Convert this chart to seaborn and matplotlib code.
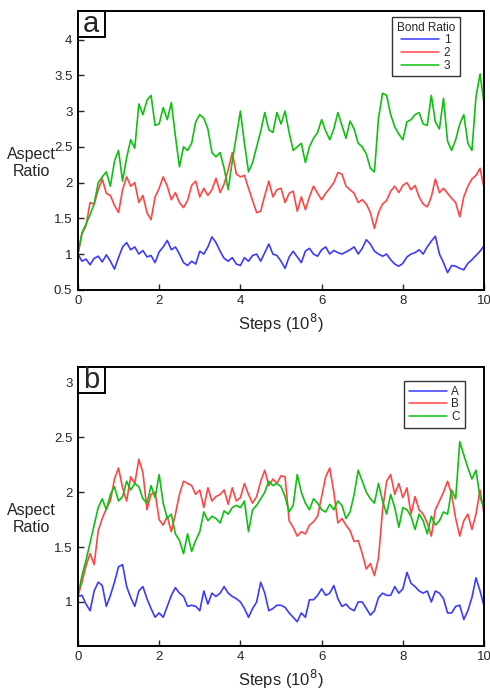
import numpy as np
import pandas as pd
import seaborn as sns
import matplotlib.pyplot as plt
from matplotlib.patches import Rectangle
from matplotlib.ticker import FuncFormatter

# steps in units of 10^8, one sample every 0.1
steps = np.round(np.arange(101) * 0.1, 1)

# panel a : bond ratio 1, 2, 3
ratio_1 = [1.00, 0.90, 0.93, 0.85, 0.94, 0.97, 0.89, 0.99, 0.90, 0.79,
           0.95, 1.10, 1.16, 1.06, 1.10, 1.00, 1.05, 0.96, 0.98, 0.88,
           1.03, 1.10, 1.19, 1.06, 1.10, 1.00, 0.88, 0.84, 0.90, 0.86,
           1.04, 1.00, 1.10, 1.24, 1.16, 1.04, 0.94, 0.90, 0.95, 0.86,
           0.84, 0.95, 0.90, 0.98, 1.00, 0.90, 1.02, 1.14, 1.00, 0.98,
           0.90, 0.80, 0.96, 1.04, 0.96, 0.88, 1.04, 1.08, 1.00, 0.97,
           1.06, 1.10, 1.00, 1.05, 1.02, 1.00, 1.03, 1.06, 1.10, 1.00,
           1.08, 1.20, 1.14, 1.04, 1.00, 0.97, 1.00, 0.92, 0.86, 0.83,
           0.87, 0.96, 1.00, 1.02, 1.06, 1.00, 1.10, 1.18, 1.25, 1.00,
           0.88, 0.74, 0.84, 0.83, 0.80, 0.78, 0.87, 0.92, 0.98, 1.04,
           1.12]
ratio_2 = [1.00, 1.28, 1.40, 1.72, 1.70, 1.90, 2.05, 1.85, 1.82, 1.68,
           1.58, 1.90, 2.08, 1.95, 2.00, 1.72, 1.82, 1.58, 1.48, 1.80,
           1.92, 2.08, 1.95, 1.76, 1.86, 1.72, 1.65, 1.75, 1.96, 2.02,
           1.80, 1.92, 1.82, 1.90, 2.06, 1.86, 1.98, 2.18, 2.42, 2.12,
           2.08, 2.10, 1.92, 1.75, 1.58, 1.60, 1.82, 2.02, 1.80, 1.90,
           1.92, 1.72, 1.85, 1.88, 1.60, 1.80, 1.62, 1.80, 1.95, 1.85,
           1.76, 1.85, 1.92, 2.00, 2.14, 2.12, 1.95, 1.90, 1.85, 1.72,
           1.76, 1.70, 1.58, 1.36, 1.58, 1.70, 1.75, 1.88, 1.95, 1.86,
           1.96, 2.00, 1.90, 1.96, 1.80, 1.70, 1.66, 1.80, 2.05, 1.86,
           1.92, 1.85, 1.78, 1.72, 1.52, 1.80, 1.95, 2.05, 2.10, 2.20,
           1.92]
ratio_3 = [1.00, 1.30, 1.42, 1.55, 1.70, 2.00, 2.08, 2.15, 1.95, 2.30,
           2.45, 2.02, 2.35, 2.60, 2.48, 3.10, 2.95, 3.15, 3.22, 2.80,
           2.82, 3.05, 2.88, 3.12, 2.65, 2.22, 2.50, 2.45, 2.55, 2.85,
           2.95, 2.90, 2.75, 2.42, 2.36, 2.42, 2.20, 1.90, 2.30, 2.65,
           3.00, 2.55, 2.15, 2.28, 2.50, 2.72, 2.98, 2.74, 2.70, 2.98,
           2.82, 3.00, 2.70, 2.45, 2.50, 2.55, 2.28, 2.50, 2.62, 2.70,
           2.88, 2.72, 2.60, 2.75, 2.98, 2.80, 2.62, 2.86, 2.75, 2.55,
           2.50, 2.40, 2.20, 2.15, 2.90, 3.25, 3.22, 2.95, 2.78, 2.68,
           2.60, 2.85, 2.88, 2.95, 2.98, 2.82, 2.80, 3.22, 2.85, 2.75,
           3.18, 2.58, 2.45, 2.60, 2.82, 2.95, 2.55, 2.45, 3.20, 3.52,
           3.10]

# panel b : A, B, C
series_a = [1.05, 1.06, 0.98, 0.92, 1.10, 1.18, 1.15, 0.96, 1.06, 1.18,
            1.32, 1.34, 1.14, 1.04, 0.96, 1.10, 1.14, 1.03, 0.94, 0.86,
            0.90, 0.86, 0.96, 1.06, 1.13, 1.08, 1.05, 0.96, 0.97, 0.96,
            0.92, 1.10, 0.98, 1.08, 1.05, 1.08, 1.14, 1.08, 1.05, 1.03,
            1.00, 0.94, 0.86, 0.94, 1.00, 1.18, 1.08, 0.92, 0.94, 0.97,
            0.97, 0.95, 0.90, 0.86, 0.82, 0.90, 0.86, 1.02, 1.02, 1.06,
            1.12, 1.06, 1.08, 1.15, 1.03, 0.96, 0.98, 0.94, 0.92, 1.00,
            1.00, 0.94, 0.88, 0.92, 1.04, 1.08, 1.06, 1.06, 1.14, 1.08,
            1.12, 1.27, 1.17, 1.14, 1.10, 1.08, 1.10, 1.00, 1.10, 1.08,
            1.03, 0.90, 0.90, 0.96, 0.97, 0.84, 0.92, 1.04, 1.22, 1.10,
            0.96]
series_b = [1.05, 1.18, 1.33, 1.44, 1.34, 1.65, 1.76, 1.85, 1.92, 2.12,
            2.22, 2.04, 1.92, 2.14, 2.08, 2.30, 2.18, 1.84, 1.98, 2.00,
            1.75, 1.70, 1.78, 1.64, 1.80, 1.98, 2.10, 2.08, 2.06, 1.98,
            2.02, 1.86, 2.04, 1.92, 1.96, 1.98, 2.02, 1.89, 2.04, 1.92,
            1.95, 2.08, 1.98, 1.90, 1.96, 2.10, 2.20, 2.06, 2.12, 2.08,
            2.15, 2.14, 1.74, 1.68, 1.60, 1.64, 1.62, 1.70, 1.73, 1.78,
            1.96, 2.14, 2.22, 2.00, 1.72, 1.76, 1.70, 1.65, 1.55, 1.56,
            1.44, 1.30, 1.35, 1.24, 1.40, 1.84, 2.10, 2.16, 1.98, 2.08,
            1.95, 2.04, 1.80, 1.96, 1.84, 1.80, 1.72, 1.60, 1.84, 1.92,
            2.00, 2.10, 1.98, 1.76, 1.60, 1.74, 1.80, 1.66, 1.80, 2.02,
            1.80]
series_c = [1.05, 1.24, 1.38, 1.54, 1.70, 1.86, 1.94, 1.84, 1.98, 2.05,
            1.92, 1.96, 2.10, 2.02, 2.08, 2.05, 1.94, 1.90, 2.06, 1.95,
            2.16, 1.90, 1.76, 1.80, 1.62, 1.56, 1.44, 1.62, 1.46, 1.56,
            1.64, 1.82, 1.74, 1.78, 1.76, 1.72, 1.83, 1.80, 1.86, 1.88,
            1.86, 1.92, 1.64, 1.84, 1.88, 1.94, 2.00, 2.10, 2.06, 2.08,
            2.05, 1.96, 1.82, 1.88, 2.16, 2.00, 1.90, 1.84, 1.94, 1.90,
            1.84, 1.82, 1.89, 1.84, 1.92, 1.88, 1.76, 1.82, 1.98, 2.20,
            2.10, 2.00, 1.94, 1.90, 2.08, 1.92, 1.80, 1.98, 1.86, 1.68,
            1.86, 1.84, 1.78, 1.66, 1.80, 1.74, 1.62, 1.78, 1.70, 1.74,
            1.82, 1.80, 2.02, 1.94, 2.46, 2.34, 2.22, 2.12, 2.20, 1.95,
            1.86]

colors = ['#3b3bff', '#ff4646', '#10c010']

df_a = pd.DataFrame({'steps': np.tile(steps, 3),
                     'ratio': ratio_1 + ratio_2 + ratio_3,
                     'group': ['1'] * 101 + ['2'] * 101 + ['3'] * 101})
df_b = pd.DataFrame({'steps': np.tile(steps, 3),
                     'ratio': series_a + series_b + series_c,
                     'group': ['A'] * 101 + ['B'] * 101 + ['C'] * 101})

sns.set_style('ticks')
plt.rcParams['font.family'] = ['Liberation Sans', 'DejaVu Sans']

fig = plt.figure(figsize=(4.9, 6.9), dpi=100)
ax1 = fig.add_axes([0.159, 0.580, 0.829, 0.404])
ax2 = fig.add_axes([0.159, 0.064, 0.829, 0.404])

panels = [(ax1, df_a, 'a', (0.5, 4.4), np.arange(0.5, 4.01, 0.5), 'Bond Ratio', (0.94, 0.978)),
          (ax2, df_b, 'b', (0.6, 3.14), np.arange(1, 3.01, 0.5), None, (0.952, 0.95))]

for ax, d, letter, ylim, yt, ltitle, lpos in panels:
    sns.lineplot(data=d, x='steps', y='ratio', hue='group', palette=colors,
                 errorbar=None, linewidth=1.2, ax=ax, legend=False)
    ax.set_xlim(0, 10)
    ax.set_ylim(*ylim)
    ax.set_yticks(yt)
    ax.set_xticks([0, 2, 4, 6, 8, 10])
    ax.yaxis.set_major_formatter(FuncFormatter(lambda v, p: '%g' % v))
    ax.tick_params(direction='in', length=4, width=1, labelsize=9.5, pad=4)
    for s in ax.spines.values():
        s.set_linewidth(1.4)
        s.set_color('black')
    ax.set_xlabel('Steps (10$^8$)', fontsize=12, labelpad=3)
    ax.set_ylabel('Aspect\nRatio', fontsize=11.5, rotation=0, ha='center', va='center')
    ax.yaxis.set_label_coords(-0.115, 0.455)

    labels = sorted(d['group'].unique())
    handles = [plt.Line2D([], [], color=c, lw=1.1) for c in colors]
    leg = ax.legend(handles, labels, title=ltitle, loc='upper right', bbox_to_anchor=lpos,
                    fontsize=8.5, title_fontsize=8.5, frameon=True, fancybox=False,
                    handlelength=3.2, handletextpad=0.4, labelspacing=0.05,
                    borderpad=0.4, borderaxespad=0)
    leg.get_frame().set_edgecolor('black')
    leg.get_frame().set_linewidth(1.0)

    ax.add_patch(Rectangle((0, 1), 0.066, -0.093, transform=ax.transAxes,
                           facecolor='white', edgecolor='black', lw=1.4,
                           clip_on=False, zorder=5))
    ax.text(0.033, 0.955, letter, transform=ax.transAxes, ha='center', va='center',
            fontsize=21, zorder=6)

fig.savefig('out.png', dpi=100)
